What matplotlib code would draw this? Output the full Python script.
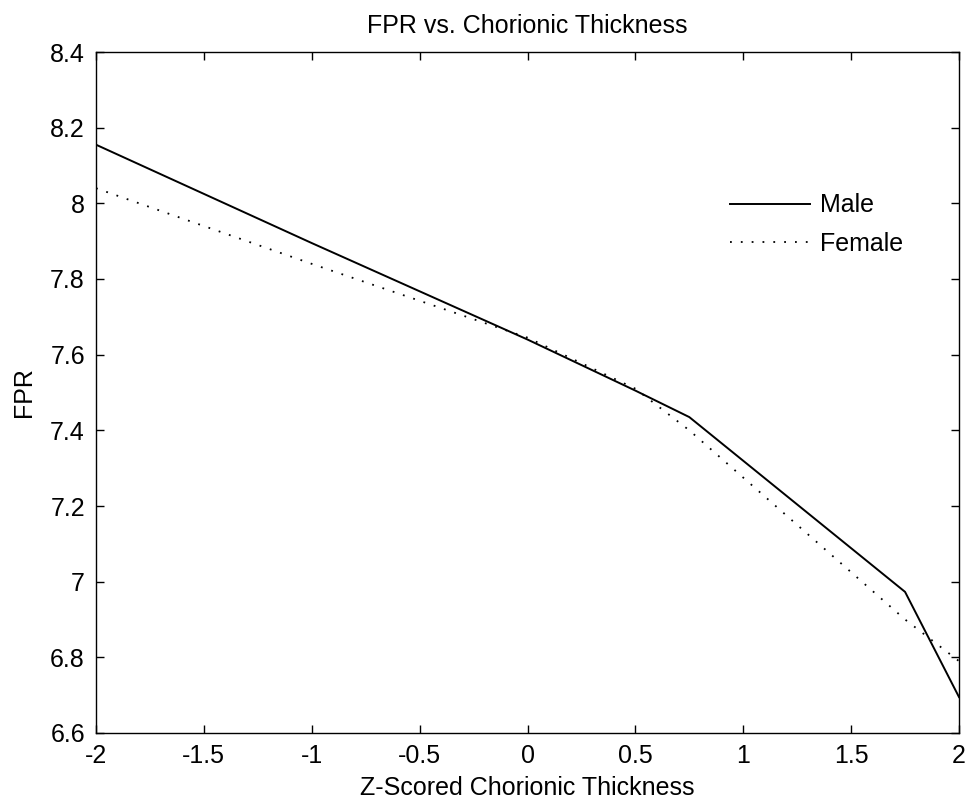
import matplotlib
matplotlib.use('Agg')
import matplotlib.pyplot as plt
from matplotlib.ticker import FormatStrFormatter

# values
z_score = [-2, -1, 0, 0.5, 0.75, 1.75, 2]
male = [8.155, 7.895, 7.64, 7.505, 7.435, 6.973, 6.695]
female = [8.04, 7.84, 7.645, 7.51, 7.40, 6.90, 6.79]

x_ticks = [-2, -1.5, -1, -0.5, 0, 0.5, 1, 1.5, 2]
y_ticks = [6.6, 6.8, 7, 7.2, 7.4, 7.6, 7.8, 8, 8.2, 8.4]

plt.rcParams['font.family'] = ['Liberation Sans', 'DejaVu Sans']
plt.rcParams['font.size'] = 18

fig = plt.figure(figsize=(9.69, 8.08), dpi=100)
ax = fig.add_axes([96 / 969, 75 / 808, 863 / 969, 681 / 808])

ax.plot(z_score, male, color='black', lw=1.4, label='Male')
ax.plot(z_score, female, color='black', lw=1.3, linestyle=(0, (1, 5)), label='Female')

ax.set_xlim(-2, 2)
ax.set_ylim(6.6, 8.4)
ax.set_xticks(x_ticks)
ax.set_yticks(y_ticks)
ax.xaxis.set_major_formatter(FormatStrFormatter('%g'))
ax.yaxis.set_major_formatter(FormatStrFormatter('%g'))
ax.tick_params(direction='in', length=6, width=1, top=True, right=True, pad=8)
for s in ax.spines.values():
    s.set_linewidth(1.0)

ax.set_title('FPR vs. Chorionic Thickness', fontsize=18, pad=14)
ax.set_xlabel('Z-Scored Chorionic Thickness', labelpad=6)
ax.set_ylabel('FPR', labelpad=10)

ax.legend(loc='upper left', bbox_to_anchor=(0.723, 0.807), frameon=False,
          handlelength=3.2, handletextpad=0.4, labelspacing=0.58, borderaxespad=0)

fig.savefig('out.png', dpi=100)
